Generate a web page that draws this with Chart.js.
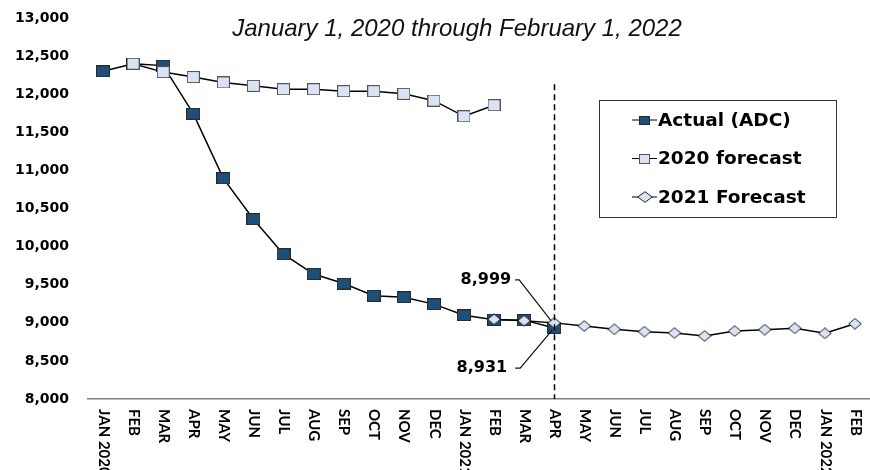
<!DOCTYPE html>
<html>
<head>
<meta charset="utf-8">
<script src="https://cdn.jsdelivr.net/npm/chart.js@4.4.1/dist/chart.umd.min.js"></script>
<style>
    html, body { margin: 0; padding: 0; background: #fff; }
</style>
</head>
<body>
<canvas id="adcChart" width="870" height="470"></canvas>
<script>
// chart data
const months = ['JAN 2020', 'FEB', 'MAR', 'APR', 'MAY', 'JUN', 'JUL', 'AUG', 'SEP', 'OCT', 'NOV', 'DEC',
    'JAN 2021', 'FEB', 'MAR', 'APR', 'MAY', 'JUN', 'JUL', 'AUG', 'SEP', 'OCT', 'NOV', 'DEC',
    'JAN 2022', 'FEB'];
const actualAdc = [12300, 12400, 12375, 11745, 10895, 10360, 9900, 9640, 9515, 9355, 9335, 9245,
    9100, 9040, 9035, 8931, null, null, null, null, null, null, null, null, null, null];
const forecast2020 = [null, 12400, 12290, 12225, 12155, 12110, 12065, 12065, 12040, 12040, 12005, 11915,
    11710, 11855, null, null, null, null, null, null, null, null, null, null, null, null];
const forecast2021 = [null, null, null, null, null, null, null, null, null, null, null, null,
    null, 9045, 9027, 8999, 8958, 8915, 8884, 8866, 8827, 8892, 8910, 8928, 8862, 8988];
const seriesNames = ['Actual (ADC)', '2020 forecast', '2021 Forecast'];
const yMin = 8000, yMax = 13000, yStep = 500;
const subtitle = 'January 1, 2020 through February 1, 2022';
const cutIndex = 15; // APR 2021, where the forecast takes over

const darkBlue = '#1f4e79';
const paleBlue = '#dae3f3';

function boxMarker(w, h, fill, stroke) {
    const c = document.createElement('canvas');
    c.width = w;
    c.height = h;
    const g = c.getContext('2d');
    g.fillStyle = fill;
    g.fillRect(0, 0, w, h);
    g.strokeStyle = stroke;
    g.lineWidth = 1;
    g.strokeRect(0.5, 0.5, w - 1, h - 1);
    return c;
}

function diamondMarker(w, h, fill, stroke) {
    const c = document.createElement('canvas');
    c.width = w;
    c.height = h;
    const g = c.getContext('2d');
    g.beginPath();
    g.moveTo(w / 2, 0.7);
    g.lineTo(w - 0.7, h / 2);
    g.lineTo(w / 2, h - 0.7);
    g.lineTo(0.7, h / 2);
    g.closePath();
    g.fillStyle = fill;
    g.fill();
    g.strokeStyle = stroke;
    g.lineWidth = 1;
    g.stroke();
    return c;
}

const markers = [
    boxMarker(14, 12, darkBlue, '#2a2a2a'),
    boxMarker(13, 12, paleBlue, '#555'),
    diamondMarker(14, 12, paleBlue, '#222')
];
const legendMarkers = [
    boxMarker(11, 9, darkBlue, '#2a2a2a'),
    boxMarker(11, 10, paleBlue, '#555'),
    diamondMarker(16, 12, paleBlue, '#222')
];

const fmt = v => v.toLocaleString('en-US');

const overlay = {
    id: 'overlay',
    afterDraw(chart) {
        const ctx = chart.ctx;
        const xs = chart.scales.x;
        const ys = chart.scales.y;
        const area = chart.chartArea;
        ctx.save();

        // subtitle
        ctx.fillStyle = '#111';
        ctx.font = 'italic 24px "Liberation Sans", Arial, sans-serif';
        ctx.textAlign = 'center';
        ctx.textBaseline = 'alphabetic';
        ctx.fillText(subtitle, 457, 36);

        // month labels, rotated to read downwards
        ctx.fillStyle = '#000';
        ctx.font = 'bold 15px Lato, sans-serif';
        months.forEach((m, i) => {
            ctx.save();
            ctx.translate(xs.getPixelForValue(i) + 0.5, area.bottom + 10);
            ctx.rotate(Math.PI / 2);
            ctx.textAlign = 'left';
            ctx.textBaseline = 'middle';
            ctx.fillText(m, 0, 0);
            ctx.restore();
        });

        // dashed divider
        const dx = Math.round(xs.getPixelForValue(cutIndex)) + 0.5;
        ctx.strokeStyle = '#000';
        ctx.lineWidth = 1.5;
        ctx.setLineDash([6, 4]);
        ctx.beginPath();
        ctx.moveTo(dx, ys.getPixelForValue(12130));
        ctx.lineTo(dx, area.bottom);
        ctx.stroke();
        ctx.setLineDash([]);

        // callouts for the last actual value and first forecast value
        const px = xs.getPixelForValue(cutIndex);
        const pf = ys.getPixelForValue(forecast2021[cutIndex]);
        const pa = ys.getPixelForValue(actualAdc[cutIndex]);
        ctx.font = 'bold 16px "DejaVu Sans", sans-serif';
        ctx.textAlign = 'right';
        ctx.textBaseline = 'middle';
        ctx.fillText(fmt(forecast2021[cutIndex]), px - 43, pf - 43);
        ctx.fillText(fmt(actualAdc[cutIndex]), px - 47, pa + 40);
        ctx.lineWidth = 1.2;
        ctx.strokeStyle = '#111';
        ctx.beginPath();
        ctx.moveTo(px - 39, pf - 43);
        ctx.lineTo(px - 35, pf - 43);
        ctx.lineTo(px - 3, pf - 2);
        ctx.moveTo(px - 39, pa + 40);
        ctx.lineTo(px - 34, pa + 40);
        ctx.lineTo(px - 2, pa + 2);
        ctx.stroke();

        // legend box
        ctx.strokeStyle = '#333';
        ctx.lineWidth = 1;
        ctx.strokeRect(599.5, 100.5, 237, 117);
        ctx.font = 'bold 18.5px "DejaVu Sans", sans-serif';
        ctx.textAlign = 'left';
        seriesNames.forEach((name, k) => {
            const cy = 120 + k * 38.5;
            ctx.beginPath();
            ctx.moveTo(632, cy);
            ctx.lineTo(657, cy);
            ctx.strokeStyle = '#000';
            ctx.stroke();
            const mk = legendMarkers[k];
            ctx.drawImage(mk, Math.round(644.5 - mk.width / 2), Math.round(cy - mk.height / 2));
            ctx.fillStyle = '#000';
            ctx.fillText(name, 658, cy + 1);
        });

        ctx.restore();
    }
};

function lineSet(label, data, marker, order) {
    return {
        label: label,
        data: data,
        order: order,
        borderColor: '#000',
        borderWidth: 1.5,
        pointStyle: marker,
        pointRadius: 7,
        pointHoverRadius: 7,
        tension: 0,
        spanGaps: false
    };
}

const ctx = document.getElementById('adcChart').getContext('2d');
const chart = new Chart(ctx, {
    type: 'line',
    data: {
        labels: months,
        datasets: [
            lineSet(seriesNames[0], actualAdc, markers[0], 3),
            lineSet(seriesNames[1], forecast2020, markers[1], 2),
            lineSet(seriesNames[2], forecast2021, markers[2], 1)
        ]
    },
    options: {
        responsive: false,
        animation: false,
        devicePixelRatio: 1,
        layout: {
            autoPadding: false,
            padding: { top: 18, left: 0, right: 0, bottom: 71 }
        },
        plugins: {
            legend: { display: false },
            title: { display: false },
            tooltip: { enabled: false }
        },
        scales: {
            x: {
                offset: true,
                grid: { display: false, drawTicks: false },
                border: { display: true, color: '#808080', width: 1.5 },
                ticks: { display: false }
            },
            y: {
                min: yMin,
                max: yMax,
                afterFit: scale => { scale.width = 88; },
                // invisible tick marks keep the labels clear of the plot without extra top padding
                grid: {
                    display: true,
                    drawOnChartArea: false,
                    drawTicks: true,
                    tickLength: 16,
                    tickColor: 'rgba(0,0,0,0)'
                },
                border: { display: false },
                ticks: {
                    stepSize: yStep,
                    padding: 3,
                    color: '#000',
                    font: { family: '"DejaVu Sans", sans-serif', size: 14, weight: 'bold' },
                    callback: v => fmt(v)
                }
            }
        }
    },
    plugins: [overlay]
});
</script>
</body>
</html>
